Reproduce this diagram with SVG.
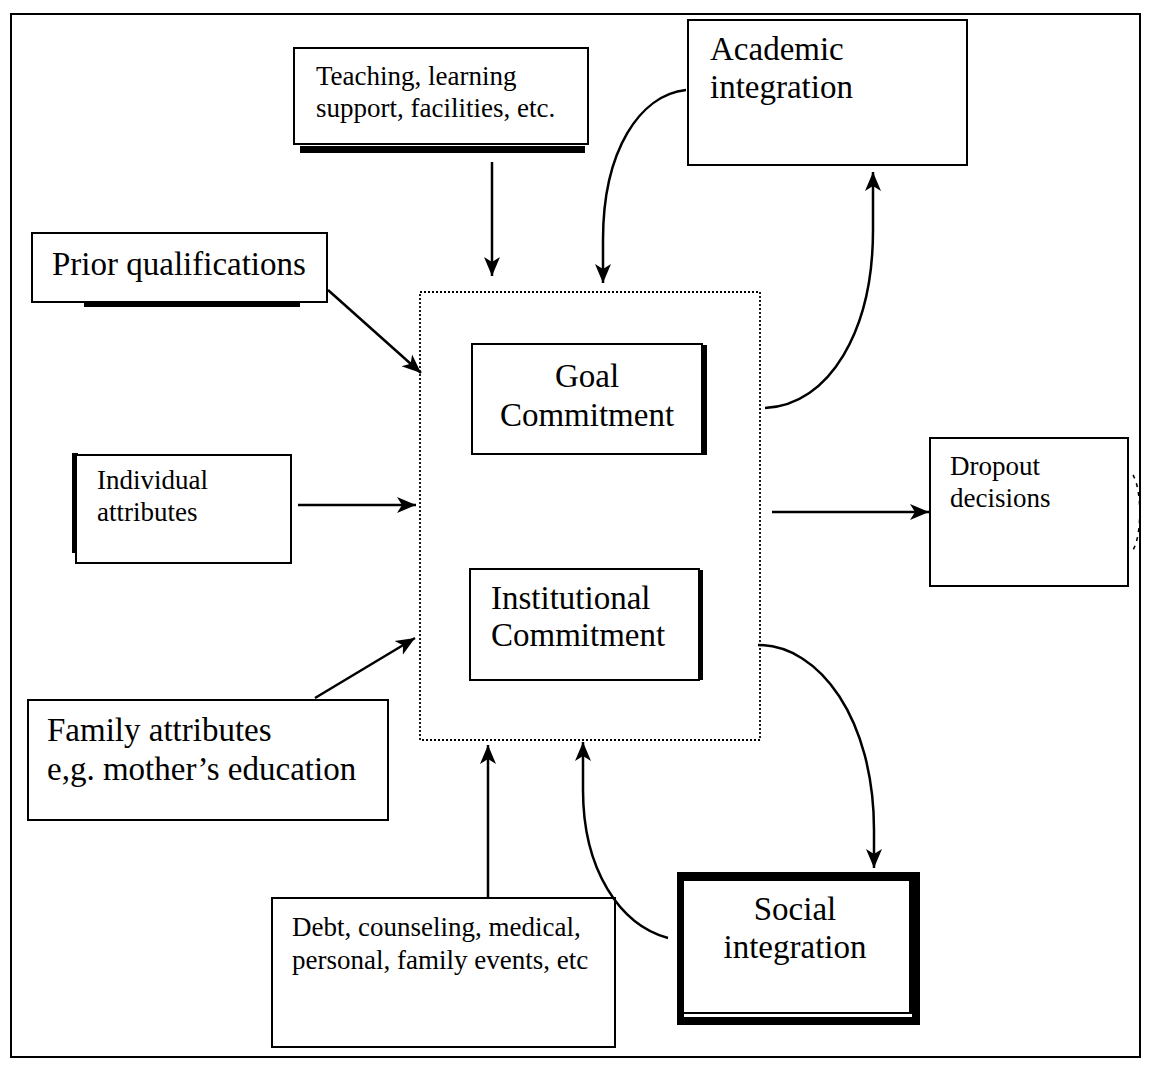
<svg xmlns="http://www.w3.org/2000/svg" width="1150" height="1065" viewBox="0 0 1150 1065">
<defs>
<marker id="ah" markerUnits="userSpaceOnUse" markerWidth="20" markerHeight="18" refX="19" refY="9" orient="auto">
<path d="M0,1 L19,9 L0,17 L5,9 z" fill="#000"/>
</marker>
<style>
.box{fill:#fff;stroke:#000;stroke-width:2}
.t{font-family:"Liberation Serif","Times New Roman",serif;fill:#000}
.s{font-size:27px}
.l{font-size:33px}
.c{fill:none;stroke:#000;stroke-width:2.5}
.bar{fill:#000}
</style>
</defs>
<rect width="1150" height="1065" fill="#fff"/>
<g id="frame">
<path d="M11,1057 L11,14 L1140,14 L1140,1057 Z" fill="none" stroke="#000" stroke-width="2"/>
</g>
<g id="central">
<rect x="420" y="292" width="340" height="448" fill="none" stroke="#000" stroke-width="1.8" stroke-dasharray="2,2"/>
</g>
<g id="teaching">
<rect class="bar" x="300" y="146" width="285" height="7"/>
<rect class="box" x="294" y="48" width="294" height="96"/>
<text class="t s" x="316" y="85">Teaching, learning</text>
<text class="t s" x="316" y="117">support, facilities, etc.</text>
</g>
<g id="academic">
<rect class="box" x="688" y="20" width="279" height="145"/>
<text class="t l" x="710" y="60">Academic</text>
<text class="t l" x="710" y="98">integration</text>
</g>
<g id="prior">
<rect class="bar" x="84" y="302" width="216" height="5"/>
<rect class="box" x="32" y="233" width="295" height="69"/>
<text class="t l" x="52" y="275">Prior qualifications</text>
</g>
<g id="individual">
<rect class="bar" x="72" y="453" width="6" height="100"/>
<rect class="box" x="76" y="455" width="215" height="108"/>
<text class="t s" x="97" y="489">Individual</text>
<text class="t s" x="97" y="521">attributes</text>
</g>
<g id="goal">
<rect class="bar" x="700" y="345" width="7" height="110"/>
<rect class="box" x="472" y="344" width="230" height="110"/>
<text class="t l" x="587" y="387" text-anchor="middle">Goal</text>
<text class="t l" x="587" y="426" text-anchor="middle">Commitment</text>
</g>
<g id="institutional">
<rect class="bar" x="697" y="570" width="6" height="110"/>
<rect class="box" x="470" y="569" width="229" height="111"/>
<text class="t l" x="491" y="609">Institutional</text>
<text class="t l" x="491" y="646">Commitment</text>
</g>
<g id="dropout">
<rect class="box" x="930" y="438" width="198" height="148"/>
<text class="t s" x="950" y="475">Dropout</text>
<text class="t s" x="950" y="507">decisions</text>
<path d="M1133,475 C1142,490 1142,535 1133,550" fill="none" stroke="#000" stroke-width="1.5" stroke-dasharray="4,5"/>
</g>
<g id="family">
<rect class="box" x="28" y="700" width="360" height="120"/>
<text class="t l" x="47" y="741">Family attributes</text>
<text class="t l" x="47" y="780">e,g. mother’s education</text>
</g>
<g id="debt">
<rect class="box" x="272" y="898" width="343" height="149"/>
<text class="t s" x="292" y="936">Debt, counseling, medical,</text>
<text class="t s" x="292" y="969">personal, family events, etc</text>
</g>
<g id="social">
<rect class="bar" x="677" y="872" width="243" height="153"/>
<rect x="684" y="881" width="225" height="131" fill="#fff"/>
<rect x="684" y="1014" width="228" height="3" fill="#fff"/>
<text class="t l" x="795" y="920" text-anchor="middle">Social</text>
<text class="t l" x="795" y="958" text-anchor="middle">integration</text>
</g>
<g id="connectors">
<path class="c" d="M492,162 L492,276" marker-end="url(#ah)"/>
<path class="c" d="M686,90 C640,95 603,150 603,240 L603,283" marker-end="url(#ah)"/>
<path class="c" d="M765,408 C830,405 873,330 873,230 L873,172" marker-end="url(#ah)"/>
<path class="c" d="M758,645 C820,645 874,720 874,830 L874,868" marker-end="url(#ah)"/>
<path class="c" d="M668,938 C620,925 583,870 583,790 L583,742" marker-end="url(#ah)"/>
<path class="c" d="M328,290 L421,373" marker-end="url(#ah)"/>
<path class="c" d="M298,505 L416,505" marker-end="url(#ah)"/>
<path class="c" d="M315,698 L415,638" marker-end="url(#ah)"/>
<path class="c" d="M488,898 L488,745" marker-end="url(#ah)"/>
<path class="c" d="M772,512 L929,512" marker-end="url(#ah)"/>
</g>
</svg>
